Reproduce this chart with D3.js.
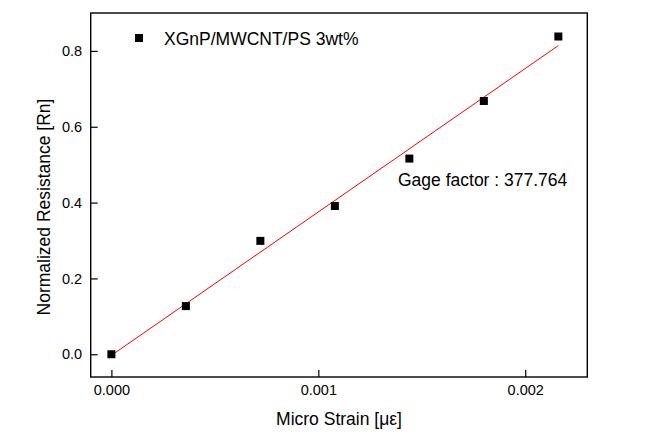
<!DOCTYPE html>
<html>
<head>
<meta charset="utf-8">
<script src="https://cdn.jsdelivr.net/npm/d3@7"></script>
<style>
  html, body { margin: 0; padding: 0; background: #fff; }
  svg { display: block; font-family: Arial, "Liberation Sans", sans-serif; }
</style>
</head>
<body>
<svg id="chart" width="654" height="445"></svg>
<script>
// ---- data ----
const strain = [0, 0.00036, 0.00072, 0.00108, 0.00144, 0.0018, 0.00216];
const resistance = [0, 0.127, 0.299, 0.391, 0.516, 0.668, 0.838];
const xTicks = [0, 0.001, 0.002];
const yTicks = [0, 0.2, 0.4, 0.6, 0.8];
const seriesName = "XGnP/MWCNT/PS 3wt%";
const gageLabel = "Gage factor : 377.764";
const xTitle = "Micro Strain [\u03bc\u03b5]";
const yTitle = "Normalized Resistance [Rn]";

// ---- layout ----
const svg = d3.select("#chart");
const L = 90.7, R = 587.3, T = 13, B = 377;

const x = d3.scaleLinear().domain([-0.0001, 0.0023]).range([L, R]);
const y = d3.scaleLinear().domain([-0.06, 0.9]).range([B, T]);

// linear fit (least squares) from the data
const mx = d3.mean(strain), my = d3.mean(resistance);
let sxy = 0, sxx = 0;
strain.forEach((v, i) => { sxy += (v - mx) * (resistance[i] - my); sxx += (v - mx) * (v - mx); });
const slope = sxy / sxx, intercept = my - slope * mx;
const fitX = d3.extent(strain);

// axes (ticks inward)
const xAxis = svg.append("g").attr("transform", `translate(0,${B})`)
  .call(d3.axisBottom(x).tickValues(xTicks).tickFormat(d3.format(".3f")).tickSizeInner(-7).tickSizeOuter(0).tickPadding(8));
const yAxis = svg.append("g").attr("transform", `translate(${L},0)`)
  .call(d3.axisLeft(y).tickValues(yTicks).tickFormat(d3.format(".1f")).tickSizeInner(-7).tickSizeOuter(0).tickPadding(8.5));
[xAxis, yAxis].forEach(g => {
  g.select(".domain").remove();
  g.selectAll("line").attr("stroke", "#000").attr("stroke-width", 1.2);
  g.selectAll("text").attr("fill", "#000").style("font-size", "14.5px").style("font-family", "Arial, 'Liberation Sans', sans-serif");
});

// frame
svg.append("rect").attr("x", L).attr("y", T).attr("width", R - L).attr("height", B - T)
  .attr("fill", "none").attr("stroke", "#000").attr("stroke-width", 1.4);

// fit line
svg.append("line")
  .attr("x1", x(fitX[0])).attr("y1", y(slope * fitX[0] + intercept))
  .attr("x2", x(fitX[1])).attr("y2", y(slope * fitX[1] + intercept))
  .attr("stroke", "#ff0000").attr("stroke-width", 1);

// points
svg.append("g").selectAll("rect").data(strain).join("rect")
  .attr("x", (d) => x(d) - 4).attr("y", (d, i) => y(resistance[i]) - 4)
  .attr("width", 8).attr("height", 8).attr("fill", "#000");

// legend
svg.append("rect").attr("x", 135).attr("y", 34).attr("width", 8).attr("height", 8).attr("fill", "#000");
svg.append("text").attr("x", 164).attr("y", 44.5).text(seriesName)
  .style("font-size", "17.5px").attr("fill", "#000");

// gage factor annotation
svg.append("text").attr("x", 398).attr("y", 186).text(gageLabel)
  .style("font-size", "17.5px").attr("fill", "#000");

// axis titles
svg.append("text").attr("x", (L + R) / 2).attr("y", 425).attr("text-anchor", "middle")
  .text(xTitle).style("font-size", "17.5px").attr("fill", "#000");
svg.append("text").attr("transform", `translate(50,207) rotate(-90)`).attr("text-anchor", "middle")
  .text(yTitle).style("font-size", "17.5px").attr("fill", "#000");
</script>
</body>
</html>
